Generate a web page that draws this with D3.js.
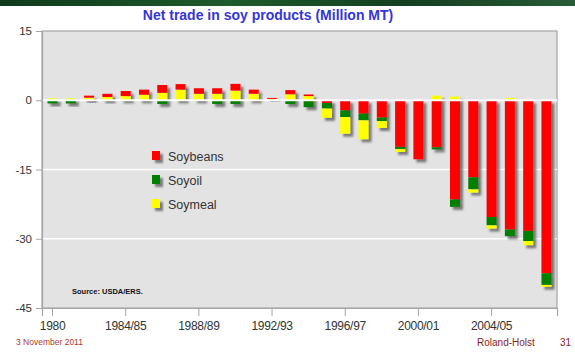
<!DOCTYPE html>
<html>
<head>
<meta charset="utf-8">
<script src="https://cdn.jsdelivr.net/npm/d3@7/dist/d3.min.js"></script>
<style>
  html, body { margin: 0; padding: 0; background: #ffffff; }
  svg { display: block; font-family: "Liberation Sans", Arial, sans-serif; }
</style>
</head>
<body>
<svg id="chart" width="575" height="352"></svg>
<script>
// Marketing years shown on the category axis
const years = ["1980", "1981/82", "1982/83", "1983/84", "1984/85", "1985/86", "1986/87",
  "1987/88", "1988/89", "1989/90", "1990/91", "1991/92", "1992/93", "1993/94", "1994/95",
  "1995/96", "1996/97", "1997/98", "1998/99", "1999/00", "2000/01", "2001/02", "2002/03",
  "2003/04", "2004/05", "2005/06", "2006/07", "2007/08"];
const tickYears = ["1980", "1984/85", "1988/89", "1992/93", "1996/97", "2000/01", "2004/05"];

// Net trade, million metric tons (positive = net exports)
const soybeans = [0, 0, 0.45, 0.7, 1.1, 1.1, 1.7, 1.2, 1.2, 1.2, 1.45, 0.9, 0.2, 0.9, 0.35,
  -0.6, -2.2, -2.9, -3.75, -10.1, -12.8, -10.2, -21.5, -16.7, -25.3, -28.0, -28.3, -37.5];
const soyoil = [-0.7, -0.7, 0, 0, 0, 0, -0.8, 0, 0, -0.8, -0.8, 0, 0, -0.8, -1.5,
  -1.2, -1.45, -1.45, -0.75, -0.5, 0, -0.45, -1.6, -2.6, -1.8, -1.45, -2.2, -2.5];
const soymeal = [0.4, 0.4, 0.55, 0.7, 0.9, 1.2, 1.6, 2.3, 1.4, 1.4, 2.1, 1.4, 0.3, 1.3, 0.9,
  -2.0, -3.6, -4.1, -1.5, -0.6, 0, 1.0, 0.8, -0.7, -0.7, 0.5, -0.9, -0.4];

const yTicks = [15, 0, -15, -30, -45];

const series = [
  { name: "Soybeans", values: soybeans, color: "#ff0000" },
  { name: "Soyoil", values: soyoil, color: "#007f00" },
  { name: "Soymeal", values: soymeal, color: "#ffff00" }
];
// Exports stack meal first, imports stack beans first
const posOrder = ["Soymeal", "Soybeans", "Soyoil"];
const negOrder = ["Soybeans", "Soyoil", "Soymeal"];

const svg = d3.select("#chart");
const plot = { left: 42, right: 557, top: 31, bottom: 308 };

// Header band
const grad = svg.append("defs").append("linearGradient").attr("id", "band");
grad.append("stop").attr("offset", "0%").attr("stop-color", "#0f3a1c");
grad.append("stop").attr("offset", "40%").attr("stop-color", "#1d5a2c");
grad.append("stop").attr("offset", "70%").attr("stop-color", "#123f20");
grad.append("stop").attr("offset", "100%").attr("stop-color", "#2a5a36");
svg.append("rect").attr("x", 0).attr("y", 0).attr("width", 575).attr("height", 6)
  .attr("fill", "url(#band)");

const shadow = svg.select("defs").append("filter").attr("id", "shadow")
  .attr("x", "-50%").attr("y", "-50%").attr("width", "200%").attr("height", "200%");
shadow.append("feDropShadow").attr("dx", 3).attr("dy", 3).attr("stdDeviation", 1.3)
  .attr("flood-color", "#555").attr("flood-opacity", 0.75);

const x = d3.scaleBand().domain(years).range([plot.left, plot.right])
  .paddingInner(0.45).paddingOuter(0.3);
const y = d3.scaleLinear().domain([-45, 15]).range([plot.bottom, plot.top]);

// Plot background and frame
svg.append("rect").attr("x", plot.left).attr("y", plot.top)
  .attr("width", plot.right - plot.left).attr("height", plot.bottom - plot.top)
  .attr("fill", "#e3e3e3").attr("stroke", "#a6a6a6").attr("stroke-width", 1.2);

// Gridlines
svg.append("g").selectAll("line").data([-15, -30]).join("line")
  .attr("x1", plot.left).attr("x2", plot.right)
  .attr("y1", d => y(d)).attr("y2", d => y(d))
  .attr("stroke", "#ffffff").attr("stroke-width", 1.5);

// Stacked bars
const segs = years.map((yr, i) => {
  let pos = 0, neg = 0;
  const out = [];
  posOrder.forEach(n => {
    const s = series.find(d => d.name === n);
    const v = s.values[i];
    if (v > 0) { out.push({ y0: pos, y1: pos + v, color: s.color }); pos += v; }
  });
  negOrder.forEach(n => {
    const s = series.find(d => d.name === n);
    const v = s.values[i];
    if (v < 0) { out.push({ y0: neg, y1: neg + v, color: s.color }); neg += v; }
  });
  return { year: yr, segs: out };
});

const groups = svg.append("g").selectAll("g").data(segs).join("g")
  .attr("filter", "url(#shadow)");
groups.selectAll("rect").data(d => d.segs.map(s => ({ ...s, year: d.year }))).join("rect")
  .attr("x", d => x(d.year))
  .attr("width", x.bandwidth())
  .attr("y", d => y(Math.max(d.y0, d.y1)))
  .attr("height", d => Math.abs(y(d.y0) - y(d.y1)))
  .attr("fill", d => d.color);

// Zero line
svg.append("line").attr("x1", plot.left).attr("x2", plot.right)
  .attr("y1", y(0)).attr("y2", y(0))
  .attr("stroke", "#ffffff").attr("stroke-width", 2);

// Axes
const yAxis = svg.append("g").attr("transform", `translate(${plot.left},0)`)
  .call(d3.axisLeft(y).tickValues(yTicks).tickFormat(d => String(d)).tickSize(6).tickPadding(4));
const xAxis = svg.append("g").attr("transform", `translate(0,${plot.bottom})`)
  .call(d3.axisBottom(x).tickValues(tickYears).tickSize(8).tickPadding(5));
[yAxis, xAxis].forEach(a => {
  a.select(".domain").attr("stroke", "#a6a6a6").attr("stroke-width", 1.2);
  a.selectAll(".tick line").attr("stroke", "#a6a6a6");
  a.selectAll("text").attr("fill", "#333").attr("font-size", 11.5)
    .attr("font-family", "\"Liberation Sans\", Arial, sans-serif");
});
xAxis.selectAll("text").attr("font-size", 12).attr("letter-spacing", -0.3);

// Title
svg.append("text").attr("x", 268).attr("y", 20).attr("text-anchor", "middle")
  .attr("font-size", 14).attr("font-weight", "bold").attr("fill", "#3535d8")
  .text("Net trade in soy products (Million MT)");

// Legend
const legend = svg.append("g");
series.forEach((s, i) => {
  const ly = 156 + i * 24;
  legend.append("rect").attr("x", 152).attr("y", ly - 5).attr("width", 8).attr("height", 9)
    .attr("fill", s.color).attr("filter", "url(#shadow)");
  legend.append("text").attr("x", 168).attr("y", ly + 4.5)
    .attr("font-size", 12.5).attr("fill", "#333").text(s.name);
});

// Source note
svg.append("text").attr("x", 72).attr("y", 294).attr("font-size", 7.5)
  .attr("font-weight", "bold").attr("fill", "#111").text("Source: USDA/ERS.");

// Footer
svg.append("text").attr("x", 16).attr("y", 345).attr("font-size", 8.5)
  .attr("fill", "#b03a1e").text("3 November 2011");
svg.append("text").attr("x", 477).attr("y", 346).attr("font-size", 10)
  .attr("fill", "#8b1c1c").text("Roland-Holst");
svg.append("text").attr("x", 560).attr("y", 346).attr("font-size", 10)
  .attr("fill", "#8b1c1c").text("31");
</script>
</body>
</html>
